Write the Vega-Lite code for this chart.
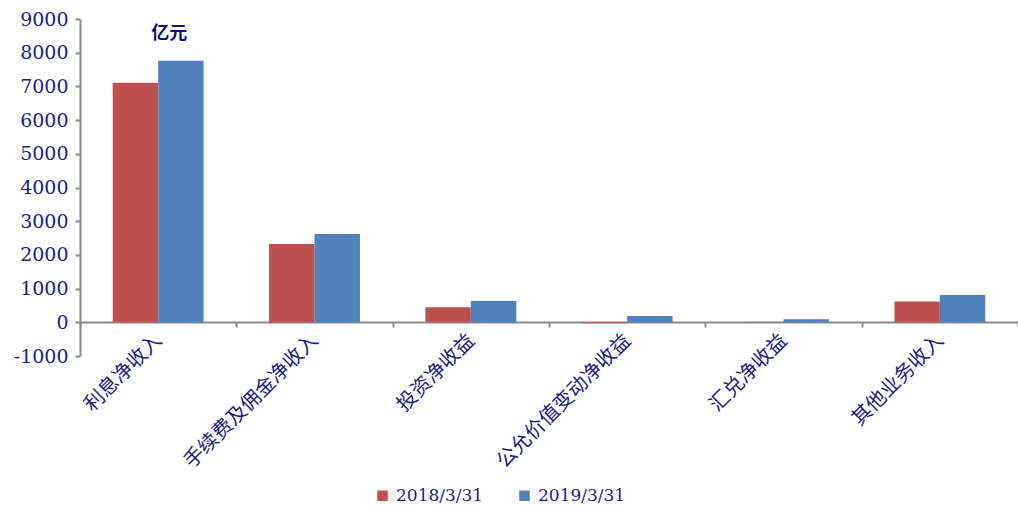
{
  "$schema": "https://vega.github.io/schema/vega-lite/v6.json",
  "width": 938,
  "height": 337,
  "autosize": {"type": "none"},
  "padding": {"left": 80, "top": 19, "right": 0, "bottom": 150},
  "background": "white",
  "config": {
    "view": {"stroke": null},
    "axis": {"grid": false, "domainColor": "#898989", "tickColor": "#898989", "domainWidth": 2, "tickWidth": 2, "tickSize": 5},
    "axisY": {"labelOverlap": false, "labelFont": "DejaVu Serif", "labelFontSize": 19, "labelColor": "#1c1c8c", "labelPadding": 7}
  },
  "datasets": {
    "bars": [
      {"item": "利息净收入", "period": "2018/3/31", "value": 7110},
      {"item": "利息净收入", "period": "2019/3/31", "value": 7760},
      {"item": "手续费及佣金净收入", "period": "2018/3/31", "value": 2320},
      {"item": "手续费及佣金净收入", "period": "2019/3/31", "value": 2620},
      {"item": "投资净收益", "period": "2018/3/31", "value": 450},
      {"item": "投资净收益", "period": "2019/3/31", "value": 630},
      {"item": "公允价值变动净收益", "period": "2018/3/31", "value": -30},
      {"item": "公允价值变动净收益", "period": "2019/3/31", "value": 190},
      {"item": "汇兑净收益", "period": "2018/3/31", "value": 10},
      {"item": "汇兑净收益", "period": "2019/3/31", "value": 90},
      {"item": "其他业务收入", "period": "2018/3/31", "value": 620},
      {"item": "其他业务收入", "period": "2019/3/31", "value": 810}
    ],
    "unit": [{"item": "利息净收入", "value": 8550, "label": "亿元"}]
  },
  "encoding": {
    "x": {
      "field": "item", "type": "nominal", "sort": null,
      "scale": {"paddingInner": 0, "paddingOuter": 0},
      "axis": {
        "title": null, "offset": -34, "tickBand": "extent",
        "labelAngle": -45, "labelAlign": "right", "labelBaseline": "middle",
        "labelPadding": 10, "labelFont": "Noto Sans CJK SC", "labelFontSize": 20,
        "labelColor": "#1c1c8c", "labelLimit": 300
      }
    },
    "y": {
      "field": "value", "type": "quantitative",
      "scale": {"domain": [-1000, 9000], "nice": false, "zero": false},
      "axis": {
        "title": null, "values": [-1000, 0, 1000, 2000, 3000, 4000, 5000, 6000, 7000, 8000, 9000],
        "tickCount": 11, "labelExpr": "'' + datum.value", "labelOverlap": false
      }
    }
  },
  "layer": [
    {
      "data": {"name": "bars"},
      "mark": {"type": "bar"},
      "encoding": {
        "xOffset": {"field": "period", "type": "nominal", "scale": {"paddingInner": 0, "paddingOuter": 0.72}},
        "color": {
          "field": "period", "type": "nominal",
          "scale": {"domain": ["2018/3/31", "2019/3/31"], "range": ["#C0504D", "#4F81BD"]},
          "legend": {
            "title": null, "orient": "none", "direction": "horizontal",
            "legendX": 294, "legendY": 468, "symbolType": "square", "symbolSize": 110,
            "symbolStrokeWidth": 0, "labelFont": "DejaVu Serif", "labelFontSize": 17,
            "labelColor": "#1c1c8c", "columnPadding": 32, "labelOffset": 5
          }
        }
      }
    },
    {
      "data": {"name": "unit"},
      "mark": {"type": "text", "font": "Noto Sans CJK SC", "fontWeight": "bold", "fontSize": 18, "color": "#10107a", "xOffset": 11},
      "encoding": {
        "text": {"field": "label"}
      }
    }
  ]
}
